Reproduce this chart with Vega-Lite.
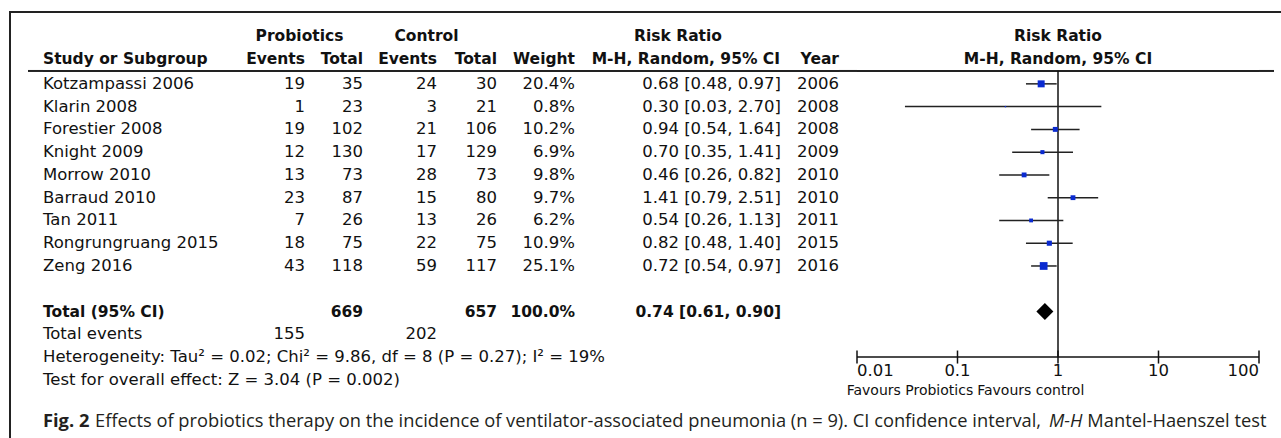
{
  "$schema": "https://vega.github.io/schema/vega-lite/v6.json",
  "background": "white",
  "padding": {"left": 9, "top": 10, "right": 0, "bottom": 0},
  "spacing": 0,
  "bounds": "flush",
  "config": {
    "view": {"stroke": null},
    "axis": {"disable": true},
    "legend": {"disable": true},
    "text": {"font": "DejaVu Sans", "fontSize": 16.5, "color": "#111"}
  },
  "datasets": {
    "rows": [
      {"kind": "study", "row": 1, "label": "Kotzampassi 2006", "pe": 19, "pt": 35, "ce": 24, "ct": 30, "weight": 20.4, "wt": "20.4%", "rr": 0.68, "lo": 0.48, "hi": 0.97, "ci": "0.68 [0.48, 0.97]", "year": 2006},
      {"kind": "study", "row": 2, "label": "Klarin 2008", "pe": 1, "pt": 23, "ce": 3, "ct": 21, "weight": 0.8, "wt": "0.8%", "rr": 0.30, "lo": 0.03, "hi": 2.70, "ci": "0.30 [0.03, 2.70]", "year": 2008},
      {"kind": "study", "row": 3, "label": "Forestier 2008", "pe": 19, "pt": 102, "ce": 21, "ct": 106, "weight": 10.2, "wt": "10.2%", "rr": 0.94, "lo": 0.54, "hi": 1.64, "ci": "0.94 [0.54, 1.64]", "year": 2008},
      {"kind": "study", "row": 4, "label": "Knight 2009", "pe": 12, "pt": 130, "ce": 17, "ct": 129, "weight": 6.9, "wt": "6.9%", "rr": 0.70, "lo": 0.35, "hi": 1.41, "ci": "0.70 [0.35, 1.41]", "year": 2009},
      {"kind": "study", "row": 5, "label": "Morrow 2010", "pe": 13, "pt": 73, "ce": 28, "ct": 73, "weight": 9.8, "wt": "9.8%", "rr": 0.46, "lo": 0.26, "hi": 0.82, "ci": "0.46 [0.26, 0.82]", "year": 2010},
      {"kind": "study", "row": 6, "label": "Barraud 2010", "pe": 23, "pt": 87, "ce": 15, "ct": 80, "weight": 9.7, "wt": "9.7%", "rr": 1.41, "lo": 0.79, "hi": 2.51, "ci": "1.41 [0.79, 2.51]", "year": 2010},
      {"kind": "study", "row": 7, "label": "Tan 2011", "pe": 7, "pt": 26, "ce": 13, "ct": 26, "weight": 6.2, "wt": "6.2%", "rr": 0.54, "lo": 0.26, "hi": 1.13, "ci": "0.54 [0.26, 1.13]", "year": 2011},
      {"kind": "study", "row": 8, "label": "Rongrungruang 2015", "pe": 18, "pt": 75, "ce": 22, "ct": 75, "weight": 10.9, "wt": "10.9%", "rr": 0.82, "lo": 0.48, "hi": 1.40, "ci": "0.82 [0.48, 1.40]", "year": 2015},
      {"kind": "study", "row": 9, "label": "Zeng 2016", "pe": 43, "pt": 118, "ce": 59, "ct": 117, "weight": 25.1, "wt": "25.1%", "rr": 0.72, "lo": 0.54, "hi": 0.97, "ci": "0.72 [0.54, 0.97]", "year": 2016},
      {"kind": "total", "row": 11, "label": "Total (95% CI)", "pt": 669, "ct": 657, "wt": "100.0%", "rr": 0.74, "lo": 0.61, "hi": 0.90, "ci": "0.74 [0.61, 0.90]"},
      {"kind": "events", "row": 12, "label": "Total events", "pe": 155, "ce": 202},
      {"kind": "note", "row": 13, "label": "Heterogeneity: Tau² = 0.02; Chi² = 9.86, df = 8 (P = 0.27); I² = 19%"},
      {"kind": "note", "row": 14, "label": "Test for overall effect: Z = 3.04 (P = 0.002)"}
    ],
    "ticks": [
      {"v": 0.01, "t": "0.01"},
      {"v": 0.1, "t": "0.1"},
      {"v": 1, "t": "1"},
      {"v": 10, "t": "10"},
      {"v": 100, "t": "100"}
    ],
    "labels": [
      {"key": "study_h", "text": "Study or Subgroup"},
      {"key": "prob_h", "text": "Probiotics"},
      {"key": "ctrl_h", "text": "Control"},
      {"key": "events_h", "text": "Events"},
      {"key": "total_h", "text": "Total"},
      {"key": "weight_h", "text": "Weight"},
      {"key": "rr_h", "text": "Risk Ratio"},
      {"key": "mh_h", "text": "M-H, Random, 95% CI"},
      {"key": "year_h", "text": "Year"},
      {"key": "fav_left", "text": "Favours Probiotics"},
      {"key": "fav_right", "text": "Favours control"},
      {"key": "cap_fig", "text": "Fig. 2"},
      {"key": "cap_body", "text": "Effects of probiotics therapy on the incidence of ventilator-associated pneumonia (n = 9). CI confidence interval,"},
      {"key": "cap_mh", "text": "M-H"},
      {"key": "cap_end", "text": "Mantel-Haenszel test"}
    ],
    "guides": [
      {"g": "frame"},
      {"g": "header"},
      {"g": "null"},
      {"g": "axis"}
    ]
  },
  "hconcat": [
    {
      "width": 1, "height": 428,
      "layer": [
        {"data": {"name": "guides"}, "transform": [{"filter": "datum.g == 'frame'"}],
         "mark": {"type": "rule", "color": "#222", "strokeWidth": 2, "x": "width", "yOffset": 0},
         "encoding": {"y": {"datum": -2.2, "type": "quantitative", "scale": {"domain": [-2.2, 16.6], "reverse": true, "nice": false, "zero": false}}, "y2": {"datum": 16.6}}}
      ]
    },
    {
      "width": 18, "height": 428,
      "layer": [
        {"data": {"name": "guides"}, "transform": [{"filter": "datum.g == 'frame'"}], "mark": {"type": "rule", "color": "#222", "strokeWidth": 2, "yOffset": 1}, "encoding": {"y": {"datum": -2.2, "type": "quantitative", "scale": {"domain": [-2.2, 16.6], "reverse": true, "nice": false, "zero": false}}}}
      ]
    },
    {
      "width": 15, "height": 428,
      "layer": [
        {"data": {"name": "guides"}, "transform": [{"filter": "datum.g == 'frame'"}], "mark": {"type": "rule", "color": "#222", "strokeWidth": 2, "yOffset": 1}, "encoding": {"y": {"datum": -2.2, "type": "quantitative", "scale": {"domain": [-2.2, 16.6], "reverse": true, "nice": false, "zero": false}}}},
        {"data": {"name": "guides"}, "transform": [{"filter": "datum.g == 'header'"}], "mark": {"type": "rule", "color": "#222", "strokeWidth": 2, "yOffset": -1.5}, "encoding": {"y": {"datum": 0.5, "type": "quantitative"}}},
        {"data": {"name": "labels"}, "transform": [{"filter": "datum.key == 'study_h'"}],
         "mark": {"type": "text", "fontWeight": "bold", "fontSize": 15.5, "align": "left", "x": "width", "dy": -2}, "encoding": {"y": {"datum": 0, "type": "quantitative"}, "text": {"field": "text", "type": "nominal"}}},
        {"data": {"name": "rows"}, "transform": [{"filter": "datum.kind != 'total'"}],
         "mark": {"type": "text", "align": "left", "x": "width"},
         "encoding": {"y": {"field": "row", "type": "quantitative"}, "text": {"field": "label", "type": "nominal"}}},
        {"data": {"name": "rows"}, "transform": [{"filter": "datum.kind == 'total'"}],
         "mark": {"type": "text", "align": "left", "x": "width", "fontWeight": "bold", "fontSize": 15.5},
         "encoding": {"y": {"field": "row", "type": "quantitative"}, "text": {"field": "label", "type": "nominal"}}},
        {"data": {"name": "labels"}, "transform": [{"filter": "datum.key == 'cap_fig'"}],
         "mark": {"type": "text", "font": "Open Sans", "fontSize": 18.3, "fontWeight": "bold", "align": "left", "x": "width", "color": "#231f20"}, "encoding": {"y": {"datum": 15.85, "type": "quantitative"}, "text": {"field": "text", "type": "nominal"}}},
        {"data": {"name": "labels"}, "transform": [{"filter": "datum.key == 'cap_body'"}],
         "mark": {"type": "text", "font": "Open Sans", "fontSize": 18.3, "align": "left", "x": "width", "dx": 52, "color": "#231f20"}, "encoding": {"y": {"datum": 15.85, "type": "quantitative"}, "text": {"field": "text", "type": "nominal"}}}
      ]
    },
    {
      "width": 262, "height": 428,
      "layer": [
        {"data": {"name": "guides"}, "transform": [{"filter": "datum.g == 'frame'"}], "mark": {"type": "rule", "color": "#222", "strokeWidth": 2, "yOffset": 1}, "encoding": {"y": {"datum": -2.2, "type": "quantitative", "scale": {"domain": [-2.2, 16.6], "reverse": true, "nice": false, "zero": false}}}},
        {"data": {"name": "guides"}, "transform": [{"filter": "datum.g == 'header'"}], "mark": {"type": "rule", "color": "#222", "strokeWidth": 2, "yOffset": -1.5}, "encoding": {"y": {"datum": 0.5, "type": "quantitative"}}},
        {"data": {"name": "labels"}, "transform": [{"filter": "datum.key == 'prob_h'"}],
         "mark": {"type": "text", "fontWeight": "bold", "fontSize": 15.5, "align": "center", "x": "width", "dx": -5.5, "dy": -2}, "encoding": {"y": {"datum": -1, "type": "quantitative"}, "text": {"field": "text", "type": "nominal"}}},
        {"data": {"name": "labels"}, "transform": [{"filter": "datum.key == 'events_h'"}],
         "mark": {"type": "text", "fontWeight": "bold", "fontSize": 15.5, "align": "right", "x": "width", "dy": -2}, "encoding": {"y": {"datum": 0, "type": "quantitative"}, "text": {"field": "text", "type": "nominal"}}},
        {"data": {"name": "rows"}, "transform": [{"filter": "isValid(datum.pe)"}],
         "mark": {"type": "text", "align": "right", "x": "width"},
         "encoding": {"y": {"field": "row", "type": "quantitative"}, "text": {"field": "pe", "type": "nominal"}}}
      ]
    },
    {
      "width": 58, "height": 428,
      "layer": [
        {"data": {"name": "guides"}, "transform": [{"filter": "datum.g == 'frame'"}], "mark": {"type": "rule", "color": "#222", "strokeWidth": 2, "yOffset": 1}, "encoding": {"y": {"datum": -2.2, "type": "quantitative", "scale": {"domain": [-2.2, 16.6], "reverse": true, "nice": false, "zero": false}}}},
        {"data": {"name": "guides"}, "transform": [{"filter": "datum.g == 'header'"}], "mark": {"type": "rule", "color": "#222", "strokeWidth": 2, "yOffset": -1.5}, "encoding": {"y": {"datum": 0.5, "type": "quantitative"}}},
        {"data": {"name": "labels"}, "transform": [{"filter": "datum.key == 'total_h'"}],
         "mark": {"type": "text", "fontWeight": "bold", "fontSize": 15.5, "align": "right", "x": "width", "dy": -2}, "encoding": {"y": {"datum": 0, "type": "quantitative"}, "text": {"field": "text", "type": "nominal"}}},
        {"data": {"name": "rows"}, "transform": [{"filter": "isValid(datum.pt) && datum.kind != 'total'"}],
         "mark": {"type": "text", "align": "right", "x": "width"},
         "encoding": {"y": {"field": "row", "type": "quantitative"}, "text": {"field": "pt", "type": "nominal"}}},
        {"data": {"name": "rows"}, "transform": [{"filter": "datum.kind == 'total'"}],
         "mark": {"type": "text", "align": "right", "x": "width", "fontWeight": "bold", "fontSize": 15.5},
         "encoding": {"y": {"field": "row", "type": "quantitative"}, "text": {"field": "pt", "type": "nominal"}}}
      ]
    },
    {
      "width": 74, "height": 428,
      "layer": [
        {"data": {"name": "guides"}, "transform": [{"filter": "datum.g == 'frame'"}], "mark": {"type": "rule", "color": "#222", "strokeWidth": 2, "yOffset": 1}, "encoding": {"y": {"datum": -2.2, "type": "quantitative", "scale": {"domain": [-2.2, 16.6], "reverse": true, "nice": false, "zero": false}}}},
        {"data": {"name": "guides"}, "transform": [{"filter": "datum.g == 'header'"}], "mark": {"type": "rule", "color": "#222", "strokeWidth": 2, "yOffset": -1.5}, "encoding": {"y": {"datum": 0.5, "type": "quantitative"}}},
        {"data": {"name": "labels"}, "transform": [{"filter": "datum.key == 'ctrl_h'"}],
         "mark": {"type": "text", "fontWeight": "bold", "fontSize": 15.5, "align": "center", "x": "width", "dx": -10.5, "dy": -2}, "encoding": {"y": {"datum": -1, "type": "quantitative"}, "text": {"field": "text", "type": "nominal"}}},
        {"data": {"name": "labels"}, "transform": [{"filter": "datum.key == 'events_h'"}],
         "mark": {"type": "text", "fontWeight": "bold", "fontSize": 15.5, "align": "right", "x": "width", "dy": -2}, "encoding": {"y": {"datum": 0, "type": "quantitative"}, "text": {"field": "text", "type": "nominal"}}},
        {"data": {"name": "rows"}, "transform": [{"filter": "isValid(datum.ce)"}],
         "mark": {"type": "text", "align": "right", "x": "width"},
         "encoding": {"y": {"field": "row", "type": "quantitative"}, "text": {"field": "ce", "type": "nominal"}}}
      ]
    },
    {
      "width": 60, "height": 428,
      "layer": [
        {"data": {"name": "guides"}, "transform": [{"filter": "datum.g == 'frame'"}], "mark": {"type": "rule", "color": "#222", "strokeWidth": 2, "yOffset": 1}, "encoding": {"y": {"datum": -2.2, "type": "quantitative", "scale": {"domain": [-2.2, 16.6], "reverse": true, "nice": false, "zero": false}}}},
        {"data": {"name": "guides"}, "transform": [{"filter": "datum.g == 'header'"}], "mark": {"type": "rule", "color": "#222", "strokeWidth": 2, "yOffset": -1.5}, "encoding": {"y": {"datum": 0.5, "type": "quantitative"}}},
        {"data": {"name": "labels"}, "transform": [{"filter": "datum.key == 'total_h'"}],
         "mark": {"type": "text", "fontWeight": "bold", "fontSize": 15.5, "align": "right", "x": "width", "dy": -2}, "encoding": {"y": {"datum": 0, "type": "quantitative"}, "text": {"field": "text", "type": "nominal"}}},
        {"data": {"name": "rows"}, "transform": [{"filter": "isValid(datum.ct) && datum.kind != 'total'"}],
         "mark": {"type": "text", "align": "right", "x": "width"},
         "encoding": {"y": {"field": "row", "type": "quantitative"}, "text": {"field": "ct", "type": "nominal"}}},
        {"data": {"name": "rows"}, "transform": [{"filter": "datum.kind == 'total'"}],
         "mark": {"type": "text", "align": "right", "x": "width", "fontWeight": "bold", "fontSize": 15.5},
         "encoding": {"y": {"field": "row", "type": "quantitative"}, "text": {"field": "ct", "type": "nominal"}}}
      ]
    },
    {
      "width": 78, "height": 428,
      "layer": [
        {"data": {"name": "guides"}, "transform": [{"filter": "datum.g == 'frame'"}], "mark": {"type": "rule", "color": "#222", "strokeWidth": 2, "yOffset": 1}, "encoding": {"y": {"datum": -2.2, "type": "quantitative", "scale": {"domain": [-2.2, 16.6], "reverse": true, "nice": false, "zero": false}}}},
        {"data": {"name": "guides"}, "transform": [{"filter": "datum.g == 'header'"}], "mark": {"type": "rule", "color": "#222", "strokeWidth": 2, "yOffset": -1.5}, "encoding": {"y": {"datum": 0.5, "type": "quantitative"}}},
        {"data": {"name": "labels"}, "transform": [{"filter": "datum.key == 'weight_h'"}],
         "mark": {"type": "text", "fontWeight": "bold", "fontSize": 15.5, "align": "right", "x": "width", "dy": -2}, "encoding": {"y": {"datum": 0, "type": "quantitative"}, "text": {"field": "text", "type": "nominal"}}},
        {"data": {"name": "rows"}, "transform": [{"filter": "isValid(datum.wt) && datum.kind != 'total'"}],
         "mark": {"type": "text", "align": "right", "x": "width"},
         "encoding": {"y": {"field": "row", "type": "quantitative"}, "text": {"field": "wt", "type": "nominal"}}},
        {"data": {"name": "rows"}, "transform": [{"filter": "datum.kind == 'total'"}],
         "mark": {"type": "text", "align": "right", "x": "width", "fontWeight": "bold", "fontSize": 15.5},
         "encoding": {"y": {"field": "row", "type": "quantitative"}, "text": {"field": "wt", "type": "nominal"}}}
      ]
    },
    {
      "width": 206, "height": 428,
      "layer": [
        {"data": {"name": "guides"}, "transform": [{"filter": "datum.g == 'frame'"}], "mark": {"type": "rule", "color": "#222", "strokeWidth": 2, "yOffset": 1}, "encoding": {"y": {"datum": -2.2, "type": "quantitative", "scale": {"domain": [-2.2, 16.6], "reverse": true, "nice": false, "zero": false}}}},
        {"data": {"name": "guides"}, "transform": [{"filter": "datum.g == 'header'"}], "mark": {"type": "rule", "color": "#222", "strokeWidth": 2, "yOffset": -1.5}, "encoding": {"y": {"datum": 0.5, "type": "quantitative"}}},
        {"data": {"name": "labels"}, "transform": [{"filter": "datum.key == 'rr_h'"}],
         "mark": {"type": "text", "fontWeight": "bold", "fontSize": 15.5, "align": "center", "dy": -2}, "encoding": {"y": {"datum": -1, "type": "quantitative"}, "text": {"field": "text", "type": "nominal"}}},
        {"data": {"name": "labels"}, "transform": [{"filter": "datum.key == 'mh_h'"}],
         "mark": {"type": "text", "fontWeight": "bold", "fontSize": 15.5, "align": "right", "x": "width", "dx": -1, "dy": -2}, "encoding": {"y": {"datum": 0, "type": "quantitative"}, "text": {"field": "text", "type": "nominal"}}},
        {"data": {"name": "rows"}, "transform": [{"filter": "datum.kind == 'study'"}],
         "mark": {"type": "text", "align": "right", "x": "width"},
         "encoding": {"y": {"field": "row", "type": "quantitative"}, "text": {"field": "ci", "type": "nominal"}}},
        {"data": {"name": "rows"}, "transform": [{"filter": "datum.kind == 'total'"}],
         "mark": {"type": "text", "align": "right", "x": "width", "fontWeight": "bold", "fontSize": 15.5},
         "encoding": {"y": {"field": "row", "type": "quantitative"}, "text": {"field": "ci", "type": "nominal"}}}
      ]
    },
    {
      "width": 58, "height": 428,
      "layer": [
        {"data": {"name": "guides"}, "transform": [{"filter": "datum.g == 'frame'"}], "mark": {"type": "rule", "color": "#222", "strokeWidth": 2, "yOffset": 1}, "encoding": {"y": {"datum": -2.2, "type": "quantitative", "scale": {"domain": [-2.2, 16.6], "reverse": true, "nice": false, "zero": false}}}},
        {"data": {"name": "guides"}, "transform": [{"filter": "datum.g == 'header'"}], "mark": {"type": "rule", "color": "#222", "strokeWidth": 2, "yOffset": -1.5}, "encoding": {"y": {"datum": 0.5, "type": "quantitative"}}},
        {"data": {"name": "labels"}, "transform": [{"filter": "datum.key == 'year_h'"}],
         "mark": {"type": "text", "fontWeight": "bold", "fontSize": 15.5, "align": "right", "x": "width", "dy": -2}, "encoding": {"y": {"datum": 0, "type": "quantitative"}, "text": {"field": "text", "type": "nominal"}}},
        {"data": {"name": "rows"}, "transform": [{"filter": "datum.kind == 'study'"}],
         "mark": {"type": "text", "align": "right", "x": "width"},
         "encoding": {"y": {"field": "row", "type": "quantitative"}, "text": {"field": "year", "type": "nominal"}}}
      ]
    },
    {
      "width": 18, "height": 428,
      "layer": [
        {"data": {"name": "guides"}, "transform": [{"filter": "datum.g == 'frame'"}], "mark": {"type": "rule", "color": "#222", "strokeWidth": 2, "yOffset": 1}, "encoding": {"y": {"datum": -2.2, "type": "quantitative", "scale": {"domain": [-2.2, 16.6], "reverse": true, "nice": false, "zero": false}}}},
        {"data": {"name": "guides"}, "transform": [{"filter": "datum.g == 'header'"}], "mark": {"type": "rule", "color": "#222", "strokeWidth": 2, "yOffset": -1.5}, "encoding": {"y": {"datum": 0.5, "type": "quantitative"}}}
      ]
    },
    {
      "width": 402, "height": 428,
      "layer": [
        {"data": {"name": "guides"}, "transform": [{"filter": "datum.g == 'frame'"}], "mark": {"type": "rule", "color": "#222", "strokeWidth": 2, "yOffset": 1}, "encoding": {"y": {"datum": -2.2, "type": "quantitative", "scale": {"domain": [-2.2, 16.6], "reverse": true, "nice": false, "zero": false}}}},
        {"data": {"name": "guides"}, "transform": [{"filter": "datum.g == 'header'"}], "mark": {"type": "rule", "color": "#222", "strokeWidth": 2, "yOffset": -1.5}, "encoding": {"y": {"datum": 0.5, "type": "quantitative"}}},
        {"data": {"name": "labels"}, "transform": [{"filter": "datum.key == 'rr_h'"}],
         "mark": {"type": "text", "fontWeight": "bold", "fontSize": 15.5, "align": "center", "dy": -2},
         "encoding": {"x": {"datum": 1, "type": "quantitative", "scale": {"type": "log", "domain": [0.01, 100], "nice": false}}, "y": {"datum": -1, "type": "quantitative"}, "text": {"field": "text", "type": "nominal"}}},
        {"data": {"name": "labels"}, "transform": [{"filter": "datum.key == 'mh_h'"}],
         "mark": {"type": "text", "fontWeight": "bold", "fontSize": 15.5, "align": "center", "dy": -2},
         "encoding": {"x": {"datum": 1, "type": "quantitative"}, "y": {"datum": 0, "type": "quantitative"}, "text": {"field": "text", "type": "nominal"}}},
        {"data": {"name": "guides"}, "transform": [{"filter": "datum.g == 'null'"}],
         "mark": {"type": "rule", "color": "#111", "strokeWidth": 1.5},
         "encoding": {"x": {"datum": 1, "type": "quantitative"}, "y": {"datum": 0.43, "type": "quantitative"}, "y2": {"datum": 13}}},
        {"data": {"name": "rows"}, "transform": [{"filter": "datum.kind == 'study'"}],
         "mark": {"type": "rule", "color": "#222", "strokeWidth": 1.5},
         "encoding": {"x": {"field": "lo", "type": "quantitative"}, "x2": {"field": "hi"}, "y": {"field": "row", "type": "quantitative"}}},
        {"data": {"name": "rows"}, "transform": [{"filter": "datum.kind == 'study'"}],
         "mark": {"type": "point", "shape": "square", "filled": true, "opacity": 1, "color": "#0a2ad0"},
         "encoding": {"x": {"field": "rr", "type": "quantitative"}, "y": {"field": "row", "type": "quantitative"},
                      "size": {"field": "weight", "type": "quantitative", "scale": {"domain": [0, 25.1], "range": [0, 60], "zero": true}, "legend": null}}},
        {"data": {"name": "rows"}, "transform": [{"filter": "datum.kind == 'total'"}],
         "mark": {"type": "point", "shape": "diamond", "filled": true, "opacity": 1, "color": "#000", "size": 289},
         "encoding": {"x": {"field": "rr", "type": "quantitative"}, "y": {"field": "row", "type": "quantitative"}}},
        {"data": {"name": "guides"}, "transform": [{"filter": "datum.g == 'axis'"}],
         "mark": {"type": "rule", "color": "#111", "strokeWidth": 1.5},
         "encoding": {"x": {"datum": 0.01, "type": "quantitative"}, "x2": {"datum": 100}, "y": {"datum": 13, "type": "quantitative"}}},
        {"data": {"name": "ticks"},
         "mark": {"type": "tick", "orient": "vertical", "size": 13, "thickness": 1.5, "color": "#111", "opacity": 1},
         "encoding": {"x": {"field": "v", "type": "quantitative"}, "y": {"datum": 13, "type": "quantitative"}}},
        {"data": {"name": "ticks"}, "transform": [{"filter": "datum.v > 0.01 && datum.v < 100"}],
         "mark": {"type": "text", "align": "center", "dy": 14},
         "encoding": {"x": {"field": "v", "type": "quantitative"}, "y": {"datum": 13, "type": "quantitative"}, "text": {"field": "t", "type": "nominal"}}},
        {"data": {"name": "ticks"}, "transform": [{"filter": "datum.v == 0.01"}],
         "mark": {"type": "text", "align": "left", "dy": 14},
         "encoding": {"x": {"field": "v", "type": "quantitative"}, "y": {"datum": 13, "type": "quantitative"}, "text": {"field": "t", "type": "nominal"}}},
        {"data": {"name": "ticks"}, "transform": [{"filter": "datum.v == 100"}],
         "mark": {"type": "text", "align": "right", "dy": 14},
         "encoding": {"x": {"field": "v", "type": "quantitative"}, "y": {"datum": 13, "type": "quantitative"}, "text": {"field": "t", "type": "nominal"}}},
        {"data": {"name": "labels"}, "transform": [{"filter": "datum.key == 'fav_left'"}],
         "mark": {"type": "text", "fontSize": 14, "align": "right", "dx": -2},
         "encoding": {"x": {"datum": 0.15, "type": "quantitative"}, "y": {"datum": 14.5, "type": "quantitative"}, "text": {"field": "text", "type": "nominal"}}},
        {"data": {"name": "labels"}, "transform": [{"filter": "datum.key == 'fav_right'"}],
         "mark": {"type": "text", "fontSize": 14, "align": "left", "dx": 2},
         "encoding": {"x": {"datum": 0.15, "type": "quantitative"}, "y": {"datum": 14.5, "type": "quantitative"}, "text": {"field": "text", "type": "nominal"}}}
      ]
    },
    {
      "width": 15, "height": 428,
      "layer": [
        {"data": {"name": "guides"}, "transform": [{"filter": "datum.g == 'frame'"}], "mark": {"type": "rule", "color": "#222", "strokeWidth": 2, "yOffset": 1}, "encoding": {"y": {"datum": -2.2, "type": "quantitative", "scale": {"domain": [-2.2, 16.6], "reverse": true, "nice": false, "zero": false}}}},
        {"data": {"name": "guides"}, "transform": [{"filter": "datum.g == 'header'"}], "mark": {"type": "rule", "color": "#222", "strokeWidth": 2, "yOffset": -1.5}, "encoding": {"y": {"datum": 0.5, "type": "quantitative"}}},
        {"data": {"name": "labels"}, "transform": [{"filter": "datum.key == 'cap_mh'"}],
         "mark": {"type": "text", "font": "Open Sans", "fontSize": 18.3, "fontStyle": "italic", "align": "right", "dx": -184, "color": "#231f20"}, "encoding": {"y": {"datum": 15.85, "type": "quantitative"}, "text": {"field": "text", "type": "nominal"}}},
        {"data": {"name": "labels"}, "transform": [{"filter": "datum.key == 'cap_end'"}],
         "mark": {"type": "text", "font": "Open Sans", "fontSize": 18.3, "align": "right", "color": "#231f20"}, "encoding": {"y": {"datum": 15.85, "type": "quantitative"}, "text": {"field": "text", "type": "nominal"}}}
      ]
    },
    {
      "width": 7, "height": 428,
      "layer": [
        {"data": {"name": "guides"}, "transform": [{"filter": "datum.g == 'frame'"}], "mark": {"type": "rule", "color": "#222", "strokeWidth": 2, "yOffset": 1}, "encoding": {"y": {"datum": -2.2, "type": "quantitative", "scale": {"domain": [-2.2, 16.6], "reverse": true, "nice": false, "zero": false}}}}
      ]
    }
  ]
}
